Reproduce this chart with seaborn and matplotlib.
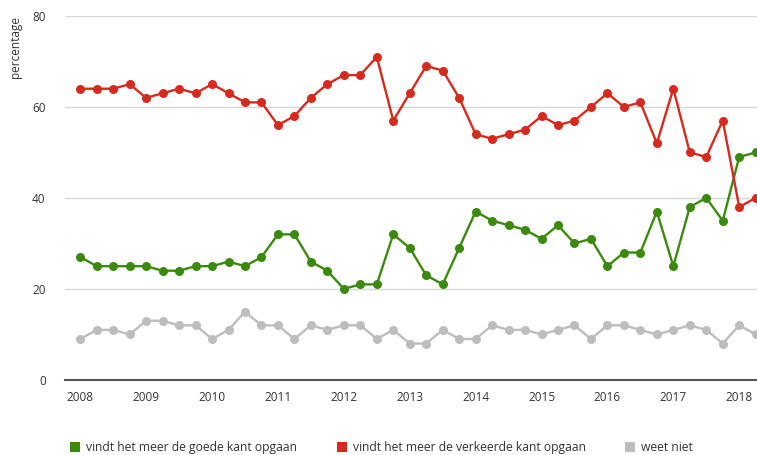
import numpy as np
import pandas as pd
import seaborn as sns
import matplotlib.pyplot as plt
from matplotlib.lines import Line2D

# quarterly measurements, 2008 Q1 .. 2018 Q2
jaren = [2008 + k / 4 for k in range(42)]

goede_kant = [27, 25, 25, 25, 25, 24, 24, 25, 25, 26, 25, 27,
              32, 32, 26, 24, 20, 21, 21, 32, 29, 23, 21, 29,
              37, 35, 34, 33, 31, 34, 30, 31, 25, 28, 28, 37,
              25, 38, 40, 35, 49, 50]
verkeerde_kant = [64, 64, 64, 65, 62, 63, 64, 63, 65, 63, 61, 61,
                  56, 58, 62, 65, 67, 67, 71, 57, 63, 69, 68, 62,
                  54, 53, 54, 55, 58, 56, 57, 60, 63, 60, 61, 52,
                  64, 50, 49, 57, 38, 40]
weet_niet = [9, 11, 11, 10, 13, 13, 12, 12, 9, 11, 15, 12,
             12, 9, 12, 11, 12, 12, 9, 11, 8, 8, 11, 9,
             9, 12, 11, 11, 10, 11, 12, 9, 12, 12, 11, 10,
             11, 12, 11, 8, 12, 10]

labels = ['vindt het meer de goede kant opgaan',
          'vindt het meer de verkeerde kant opgaan',
          'weet niet']
kleuren = ['#3b8a0e', '#d52b1f', '#bdbdbd']
jaar_ticks = list(range(2008, 2019))

df = pd.DataFrame({
    'jaar': jaren * 3,
    'pct': goede_kant + verkeerde_kant + weet_niet,
    'reeks': np.repeat(labels, len(jaren)),
})

sns.set_style('white')
plt.rcParams['font.family'] = ['Open Sans', 'DejaVu Sans']

fig = plt.figure(figsize=(7.57, 4.55), dpi=100)
ax = fig.add_axes([0.086, 0.165, 0.914, 0.80])

sns.lineplot(data=df, x='jaar', y='pct', hue='reeks', hue_order=labels,
             palette=kleuren, marker='o', markersize=6.5, markeredgewidth=0,
             linewidth=1.7, legend=False, ax=ax, clip_on=False, zorder=3)

ax.set_xlim(2007.77, 2018.27)
ax.set_ylim(0, 80)
ax.set_yticks([0, 20, 40, 60, 80])
ax.set_xticks(jaar_ticks)
ax.set_xticklabels([str(j) for j in jaar_ticks])
ax.grid(axis='y', color='#d8d8d8', linewidth=1)
ax.set_axisbelow(True)
for s in ['top', 'right', 'left']:
    ax.spines[s].set_visible(False)
ax.spines['bottom'].set_color('#555555')
ax.spines['bottom'].set_linewidth(1.5)
ax.tick_params(axis='both', length=0, labelsize=8.5, labelcolor='#333333')
ax.tick_params(axis='x', pad=8)
ax.tick_params(axis='y', pad=14)
ax.set_xlabel('')
ax.set_ylabel('')

fig.text(0.02, 0.965, 'percentage', rotation=90, va='top', ha='center',
         fontsize=8.5, color='#333333')

handles = [Line2D([], [], marker='s', linestyle='none', markersize=7.5,
                  markerfacecolor=c, markeredgewidth=0) for c in kleuren]
fig.legend(handles, labels, loc='lower left', bbox_to_anchor=(0.077, -0.022),
           ncol=3, frameon=False, fontsize=8.7, handletextpad=0.4,
           columnspacing=3.2, handlelength=1.0, labelcolor='#333333')

fig.savefig('out.png', dpi=100)
